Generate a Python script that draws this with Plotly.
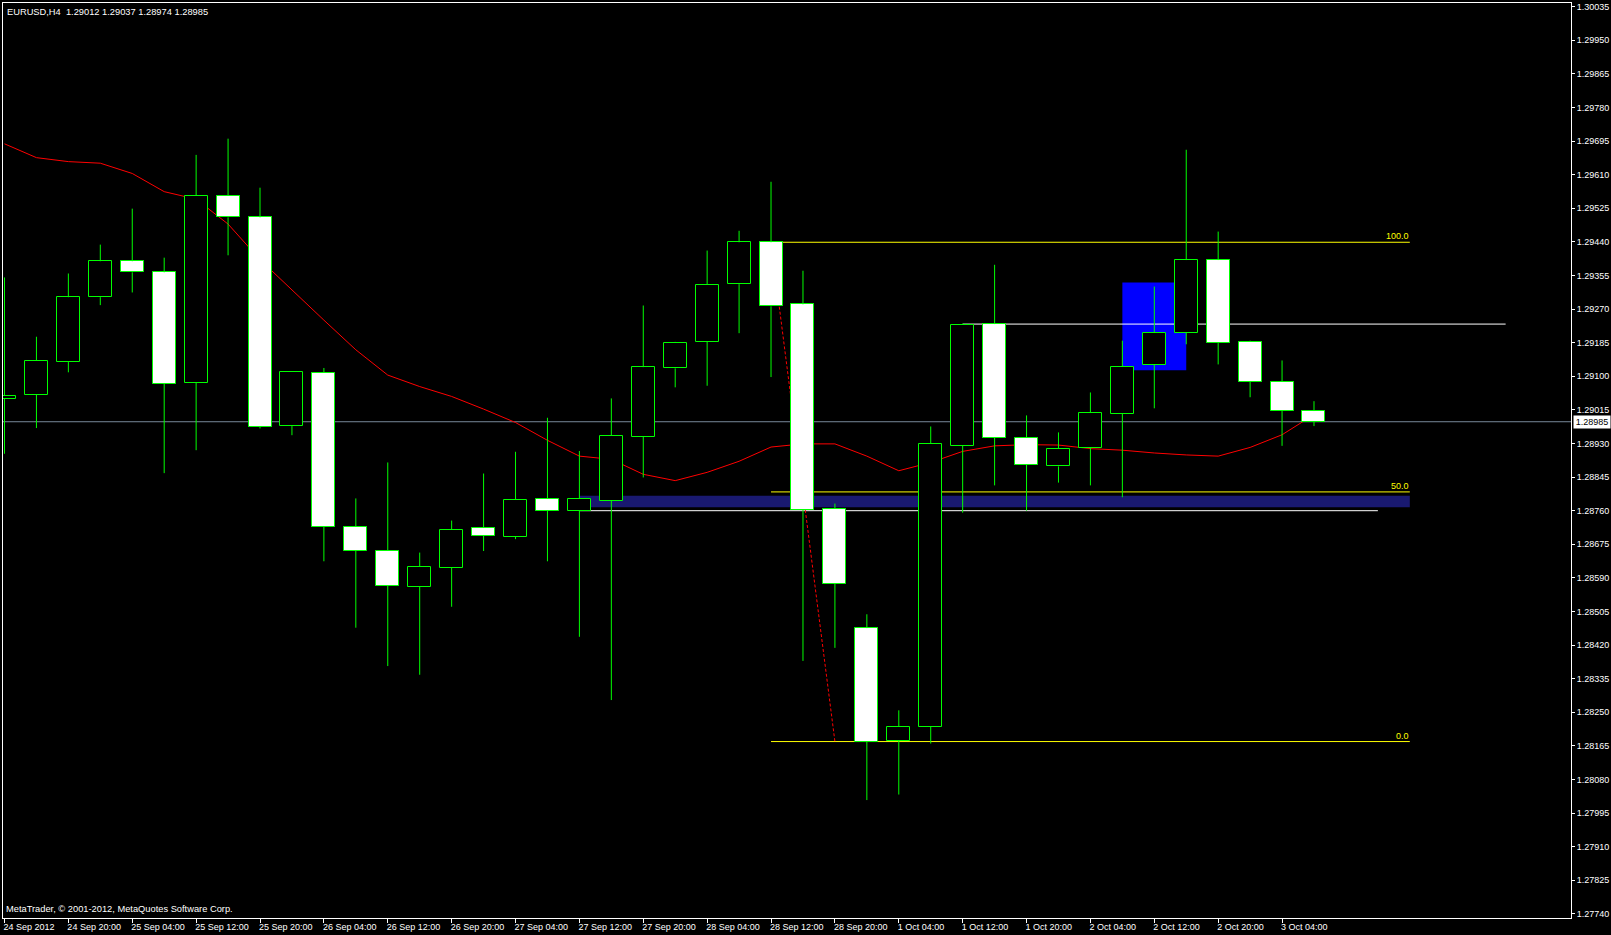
import plotly.graph_objects as go

# ---------------- data ----------------
opens = [1.29043, 1.29053, 1.29136, 1.29300, 1.29391, 1.29363, 1.29084, 1.29556, 1.29502, 1.28974,
         1.29109, 1.28719, 1.28658, 1.28568, 1.28616, 1.28717, 1.28694, 1.28790, 1.28760, 1.28785,
         1.28947, 1.29120, 1.29187, 1.29333, 1.29439, 1.29282, 1.28765, 1.28463, 1.28178, 1.28214,
         1.28924, 1.29232, 1.28944, 1.28872, 1.28919, 1.29005, 1.29129, 1.29210, 1.29394, 1.29187,
         1.29086, 1.29012]
highs = [1.29350, 1.29200, 1.29360, 1.29433, 1.29524, 1.29400, 1.29660, 1.29701, 1.29577, 1.29113,
         1.29121, 1.28791, 1.28882, 1.28654, 1.28735, 1.28854, 1.28909, 1.28995, 1.28911, 1.29044,
         1.29279, 1.29187, 1.29418, 1.29468, 1.29592, 1.29367, 1.28778, 1.28498, 1.28255, 1.28973,
         1.29233, 1.29382, 1.29001, 1.28958, 1.29059, 1.29190, 1.29327, 1.29673, 1.29466, 1.29190,
         1.29140, 1.29037]
lows = [1.28904, 1.28969, 1.29110, 1.29280, 1.29312, 1.28855, 1.28913, 1.29406, 1.28968, 1.28951,
        1.28632, 1.28464, 1.28367, 1.28345, 1.28517, 1.28658, 1.28688, 1.28632, 1.28441, 1.28281,
        1.28844, 1.29072, 1.29076, 1.29209, 1.29098, 1.28380, 1.28413, 1.28028, 1.28042, 1.28171,
        1.28755, 1.28824, 1.28760, 1.28831, 1.28824, 1.28794, 1.29019, 1.29181, 1.29130, 1.29047,
        1.28924, 1.28974]
closes = [1.29050, 1.29139, 1.29300, 1.29391, 1.29363, 1.29081, 1.29556, 1.29502, 1.28972, 1.29111,
          1.28719, 1.28658, 1.28570, 1.28618, 1.28712, 1.28696, 1.28788, 1.28760, 1.28790, 1.28949,
          1.29123, 1.29185, 1.29331, 1.29439, 1.29277, 1.28762, 1.28575, 1.28176, 1.28214, 1.28929,
          1.29230, 1.28944, 1.28876, 1.28917, 1.29007, 1.29124, 1.29210, 1.29394, 1.29184, 1.29086,
          1.29012, 1.28985]
ma_values = [1.29688, 1.29653, 1.29643, 1.29639, 1.29613, 1.29567, 1.29548, 1.29485, 1.29395, 1.29318,
             1.29242, 1.29167, 1.29103, 1.29074, 1.29049, 1.29017, 1.28983, 1.28938, 1.28898, 1.28890,
             1.28852, 1.28836, 1.28857, 1.28885, 1.28921, 1.28929, 1.28929, 1.28898, 1.28861, 1.28882,
             1.28910, 1.28924, 1.28927, 1.28926, 1.28917, 1.28913, 1.28906, 1.28901, 1.28898, 1.28920,
             1.28952, 1.29003]

time_labels = ["24 Sep 2012", "24 Sep 20:00", "25 Sep 04:00", "25 Sep 12:00", "25 Sep 20:00",
               "26 Sep 04:00", "26 Sep 12:00", "26 Sep 20:00", "27 Sep 04:00", "27 Sep 12:00",
               "27 Sep 20:00", "28 Sep 04:00", "28 Sep 12:00", "28 Sep 20:00", "1 Oct 04:00",
               "1 Oct 12:00", "1 Oct 20:00", "2 Oct 04:00", "2 Oct 12:00", "2 Oct 20:00", "3 Oct 04:00"]
time_label_bars = [0, 2, 4, 6, 8, 10, 12, 14, 16, 18, 20, 22, 24, 26, 28, 30, 32, 34, 36, 38, 40]

price_labels = ["1.27740", "1.27825", "1.27910", "1.27995", "1.28080", "1.28165", "1.28250",
                "1.28335", "1.28420", "1.28505", "1.28590", "1.28675", "1.28760", "1.28845",
                "1.28930", "1.29015", "1.29100", "1.29185", "1.29270", "1.29355", "1.29440",
                "1.29525", "1.29610", "1.29695", "1.29780", "1.29865", "1.29950", "1.30035"]

header_text = "EURUSD,H4\u00a0 1.29012 1.29037 1.28974 1.28985"
footer_text = "MetaTrader, © 2001-2012, MetaQuotes Software Corp."
last_price = 1.28985

fib_bars = [24, 26]            # anchor bars (high point, low point)
fib_prices = [1.29439, 1.28176]
fib_levels = [100.0, 50.0, 0.0]
fib_end_bar = 44

white_lines = [(30, 47, 1.29232), (18, 43, 1.28760)]
zone_rect = (18, 44, 1.28769, 1.28798)
blue_rect = (35, 37, 1.29115, 1.29337)

# ---------------- styles ----------------
GREEN = "#00FF00"
FONT = "Liberation Sans"
X_RANGE = [-0.046875, 49.046875]
Y_RANGE = [1.277297, 1.300442]

n = len(opens)
idx = list(range(n))
body_base = [min(o, c) for o, c in zip(opens, closes)]
body_len = [abs(c - o) for o, c in zip(opens, closes)]
body_fill = ["#FFFFFF" if c < o else "#000000" for o, c in zip(opens, closes)]

wick_x, wick_y = [], []
for i in idx:
    top = max(opens[i], closes[i])
    bot = min(opens[i], closes[i])
    wick_x += [i, i, None, i, i, None]
    wick_y += [highs[i], top, None, bot, lows[i], None]

fig = go.Figure()

# indicator on the base layer
fig.add_trace(go.Scatter(x=idx, y=ma_values, mode="lines",
                         line=dict(color="#FF0000", width=1), hoverinfo="skip", showlegend=False))

# candles on an overlay layer so they sit in front of objects and indicator
fig.add_trace(go.Scatter(x=wick_x, y=wick_y, mode="lines", yaxis="y2",
                         line=dict(color=GREEN, width=1), hoverinfo="skip", showlegend=False))
fig.add_trace(go.Bar(x=idx, y=body_len, base=body_base, width=0.72, yaxis="y2",
                     marker=dict(color=body_fill, line=dict(color=GREEN, width=1)),
                     hoverinfo="skip", showlegend=False))

shapes = []
shapes.append(dict(type="rect", xref="x", yref="y", x0=zone_rect[0], x1=zone_rect[1],
                   y0=zone_rect[2], y1=zone_rect[3], fillcolor="#191970",
                   line=dict(width=0), layer="below"))
shapes.append(dict(type="rect", xref="x", yref="y", x0=blue_rect[0], x1=blue_rect[1],
                   y0=blue_rect[2], y1=blue_rect[3], fillcolor="#0000FF",
                   line=dict(width=0), layer="below"))
shapes.append(dict(type="line", xref="paper", yref="y", x0=0, x1=1, y0=last_price, y1=last_price,
                   line=dict(color="#778899", width=1), layer="below"))
for x0, x1, yv in white_lines:
    shapes.append(dict(type="line", xref="x", yref="y", x0=x0, x1=x1, y0=yv, y1=yv,
                       line=dict(color="#FFFFFF", width=1), layer="below"))
fib_hi, fib_lo = fib_prices
annotations = []
for lv in fib_levels:
    yv = fib_lo + (fib_hi - fib_lo) * lv / 100.0
    shapes.append(dict(type="line", xref="x", yref="y", x0=fib_bars[0], x1=fib_end_bar, y0=yv, y1=yv,
                       line=dict(color="#FFFF00", width=1), layer="below"))
    annotations.append(dict(x=fib_end_bar, y=yv, xref="x", yref="y", text=f"{lv:.1f}",
                            showarrow=False, xanchor="right", yanchor="bottom", borderpad=0,
                            yshift=0, font=dict(family=FONT, size=9, color="#FFFF00")))
shapes.append(dict(type="line", xref="x", yref="y", x0=fib_bars[0], x1=fib_bars[1],
                   y0=fib_prices[0], y1=fib_prices[1],
                   line=dict(color="#FF0000", width=1, dash="3px,2px"), layer="below"))

annotations.append(dict(x=0, y=1, xref="paper", yref="paper", text=header_text, showarrow=False,
                        xanchor="left", yanchor="middle", xshift=3, yshift=-8.5, borderpad=0,
                        font=dict(family=FONT, size=9.3, color="#FFFFFF")))
annotations.append(dict(x=0, y=0, xref="paper", yref="paper", text=footer_text, showarrow=False,
                        xanchor="left", yanchor="middle", xshift=2, yshift=9, borderpad=0,
                        font=dict(family=FONT, size=9.3, color="#FFFFFF")))
annotations.append(dict(x=1, y=last_price, xref="paper", yref="y", text=f"{last_price:.5f}",
                        showarrow=False, xanchor="left", yanchor="middle", xshift=2,
                        bgcolor="#FFFFFF", borderpad=1, width=34, align="center",
                        font=dict(family=FONT, size=9, color="#000000")))

fig.update_layout(
    width=1611, height=935,
    margin=dict(l=2, r=38, t=2, b=17, pad=0),
    paper_bgcolor="#000000", plot_bgcolor="#000000",
    showlegend=False, bargap=0,
    shapes=shapes, annotations=annotations,
    xaxis=dict(range=X_RANGE, showgrid=False, zeroline=False, showline=True, linecolor="#FFFFFF",
               linewidth=1, mirror=True, ticks="outside", ticklen=4, tickcolor="#FFFFFF",
               tickvals=time_label_bars, ticktext=time_labels, ticklabelposition="outside right",
               ticklabelshift=-2,
               tickfont=dict(family=FONT, size=9, color="#FFFFFF"), fixedrange=True),
    yaxis=dict(range=Y_RANGE, side="right", showgrid=False, zeroline=False, showline=True,
               linecolor="#FFFFFF", linewidth=1, mirror=True, ticks="outside", ticklen=3,
               tickcolor="#FFFFFF", tickvals=[float(p) for p in price_labels], ticktext=price_labels,
               tickfont=dict(family=FONT, size=9, color="#FFFFFF"), fixedrange=True),
    yaxis2=dict(range=Y_RANGE, overlaying="y", visible=False, fixedrange=True),
)

fig.write_html("out.html", config={"displayModeBar": False},
               post_script="document.body.style.margin='0';document.body.style.overflow='hidden';document.body.style.background='#000';")
